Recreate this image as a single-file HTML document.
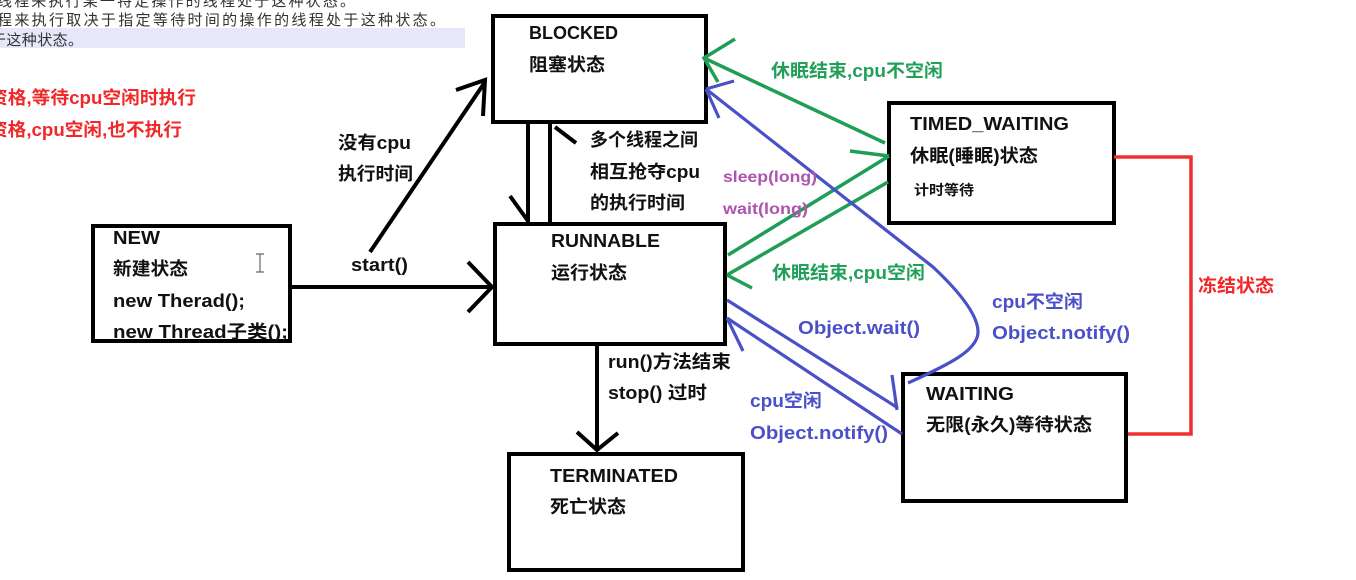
<!DOCTYPE html>
<html><head><meta charset="utf-8"><style>
html,body{margin:0;padding:0;background:#fff}
svg{display:block;filter:blur(0.35px)}
text{font-family:"Liberation Sans","Noto Sans CJK SC",sans-serif;font-weight:bold;font-size:18px}
.k{fill:#111}.g{fill:#22a05a}.b{fill:#4a50c8}.p{fill:#b052b0}.r{fill:#f02828}
.t{fill:#333;font-size:15px;font-weight:normal}
</style></head><body>
<svg width="1356" height="580" viewBox="0 0 1356 580" xmlns="http://www.w3.org/2000/svg">
<rect width="1356" height="580" fill="#fff"/>
<rect x="0" y="28" width="465" height="20" fill="#e7e7fa"/>
<text class="t" x="-3" y="6" textLength="358">线程来执行某一特定操作的线程处于这种状态。</text>
<text class="t" x="-3" y="25" textLength="448">程来执行取决于指定等待时间的操作的线程处于这种状态。</text>
<text class="t" x="-9" y="45" textLength="92">于这种状态。</text>
<text class="r" x="-11" y="104" textLength="207" lengthAdjust="spacingAndGlyphs">资格,等待cpu空闲时执行</text>
<text class="r" x="-11" y="136" textLength="193" lengthAdjust="spacingAndGlyphs">资格,cpu空闲,也不执行</text>

<g fill="none" stroke="#000" stroke-width="4">
<rect x="493" y="16" width="213" height="106"/>
<rect x="495" y="224" width="230" height="120"/>
<rect x="93" y="226" width="197" height="115"/>
<rect x="889" y="103" width="225" height="120"/>
<rect x="903" y="374" width="223" height="127"/>
<rect x="509" y="454" width="234" height="116"/>
<path d="M292 287H492M468 262L492 287L468 312"/>
<path d="M370 252L485 82M456 90L485 80L483 116"/>
<path d="M528 124V222M510 196L528 221M550 124V222M555 127L576 143"/>
<path d="M597 345V450M577 432L597 450L618 433"/>
</g>

<g fill="none" stroke="#1f9e55" stroke-width="3.5">
<path d="M704 58L885 143M735 39L704 58L718 82"/>
<path d="M728 255L889 156M850 151L889 156"/>
<path d="M727 275L888 182M727 275L752 288"/>
</g>
<g fill="none" stroke="#4a50c8" stroke-width="3.2">
<path d="M706 89L933 267C965 297 978 318 978 332C978 350 950 364 908 383"/>
<path d="M706 89L734 81M706 89L719 118"/>
<path d="M727 300L898 408M892 375L897 410"/>
<path d="M727 318L902 434M727 318L743 351"/>
</g>
<path d="M1114 157H1191V434H1128" fill="none" stroke="#f03030" stroke-width="3.5"/>
<path d="M256 254h8M260 254v18M256 272h8" fill="none" stroke="#666" stroke-width="1.2"/>

<g lengthAdjust="spacingAndGlyphs">
<text class="k" x="529" y="39" textLength="89" lengthAdjust="spacingAndGlyphs">BLOCKED</text>
<text class="k" x="529" y="71" textLength="76" lengthAdjust="spacingAndGlyphs">阻塞状态</text>
<text class="k" x="551" y="247" textLength="109" lengthAdjust="spacingAndGlyphs">RUNNABLE</text>
<text class="k" x="551" y="279" textLength="76" lengthAdjust="spacingAndGlyphs">运行状态</text>
<text class="k" x="113" y="244" textLength="47" lengthAdjust="spacingAndGlyphs">NEW</text>
<text class="k" x="113" y="275" textLength="75" lengthAdjust="spacingAndGlyphs">新建状态</text>
<text class="k" x="113" y="307" textLength="132" lengthAdjust="spacingAndGlyphs">new Therad();</text>
<text class="k" x="113" y="338" textLength="175" lengthAdjust="spacingAndGlyphs">new Thread子类();</text>
<text class="k" x="910" y="130" textLength="159" lengthAdjust="spacingAndGlyphs">TIMED_WAITING</text>
<text class="k" x="910" y="162" textLength="128" lengthAdjust="spacingAndGlyphs">休眠(睡眠)状态</text>
<text class="k" x="914" y="195" textLength="60" lengthAdjust="spacingAndGlyphs" style="font-size:14px">计时等待</text>
<text class="k" x="926" y="400" textLength="88" lengthAdjust="spacingAndGlyphs">WAITING</text>
<text class="k" x="926" y="431" textLength="166" lengthAdjust="spacingAndGlyphs">无限(永久)等待状态</text>
<text class="k" x="550" y="482" textLength="128" lengthAdjust="spacingAndGlyphs">TERMINATED</text>
<text class="k" x="550" y="513" textLength="76" lengthAdjust="spacingAndGlyphs">死亡状态</text>
<text class="k" x="338" y="149" textLength="73" lengthAdjust="spacingAndGlyphs">没有cpu</text>
<text class="k" x="338" y="180" textLength="75" lengthAdjust="spacingAndGlyphs">执行时间</text>
<text class="k" x="351" y="271" textLength="57" lengthAdjust="spacingAndGlyphs">start()</text>
<text class="k" x="590" y="146" textLength="108" lengthAdjust="spacingAndGlyphs">多个线程之间</text>
<text class="k" x="590" y="178" textLength="110" lengthAdjust="spacingAndGlyphs">相互抢夺cpu</text>
<text class="k" x="590" y="209" textLength="95" lengthAdjust="spacingAndGlyphs">的执行时间</text>
<text class="k" x="608" y="368" textLength="123" lengthAdjust="spacingAndGlyphs">run()方法结束</text>
<text class="k" x="608" y="399" textLength="99" lengthAdjust="spacingAndGlyphs">stop() 过时</text>
<text class="g" x="771" y="77" textLength="172" lengthAdjust="spacingAndGlyphs">休眠结束,cpu不空闲</text>
<text class="g" x="772" y="279" textLength="153" lengthAdjust="spacingAndGlyphs">休眠结束,cpu空闲</text>
<text class="p" x="723" y="182" textLength="94" lengthAdjust="spacingAndGlyphs" style="font-size:16px">sleep(long)</text>
<text class="p" x="723" y="214" textLength="85" lengthAdjust="spacingAndGlyphs" style="font-size:16px">wait(long)</text>
<text class="b" x="798" y="334" textLength="122" lengthAdjust="spacingAndGlyphs">Object.wait()</text>
<text class="b" x="992" y="308" textLength="91" lengthAdjust="spacingAndGlyphs">cpu不空闲</text>
<text class="b" x="992" y="339" textLength="138" lengthAdjust="spacingAndGlyphs">Object.notify()</text>
<text class="b" x="750" y="407" textLength="72" lengthAdjust="spacingAndGlyphs">cpu空闲</text>
<text class="b" x="750" y="439" textLength="138" lengthAdjust="spacingAndGlyphs">Object.notify()</text>
<text class="r" x="1198" y="292" textLength="76" lengthAdjust="spacingAndGlyphs">冻结状态</text>
</g>
</svg>
</body></html>
